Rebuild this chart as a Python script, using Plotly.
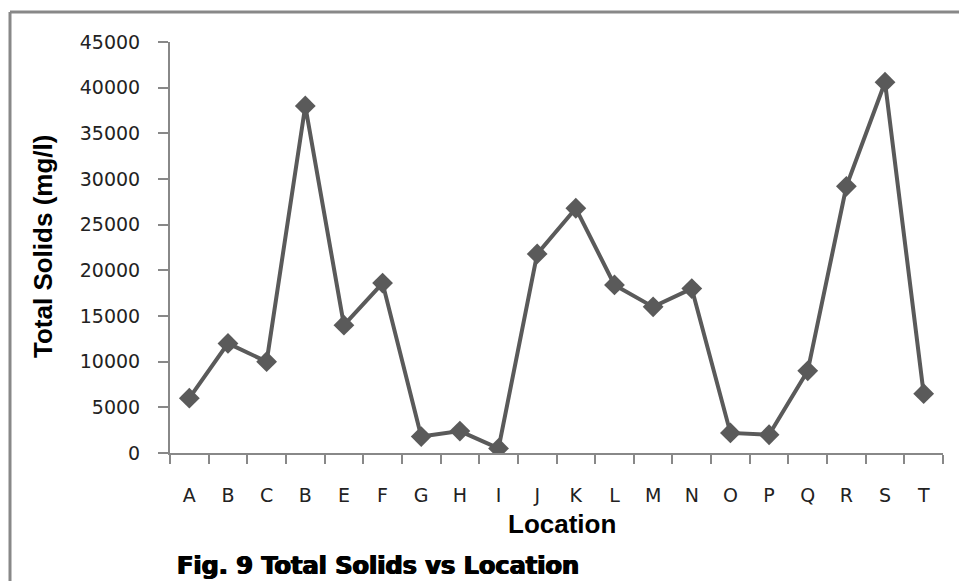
import plotly.graph_objects as go

# Sampling locations (the fourth site is labelled "B" in the survey sheet)
locations = ["A", "B", "C", "B", "E", "F", "G", "H", "I", "J",
             "K", "L", "M", "N", "O", "P", "Q", "R", "S", "T"]
total_solids = [6000, 12000, 10000, 38000, 14000, 18600, 1800, 2400, 500, 21800,
                26800, 18400, 16000, 18000, 2200, 2000, 9000, 29200, 40600, 6500]
y_ticks = [0, 5000, 10000, 15000, 20000, 25000, 30000, 35000, 40000, 45000]
y_tick_labels = [str(v) for v in y_ticks]

W, H = 959, 581
L, R, T, B = 170, 16, 42, 128
PW, PH = W - L - R, H - T - B


def px_x(x):
    return (x - L) / PW


def px_y(y):
    return (H - B - y) / PH


positions = [i + 0.5 for i in range(len(locations))]
line_col = "#5a5a5a"
axis_col = "#888888"

fig = go.Figure(go.Scatter(
    x=positions, y=total_solids, mode="lines+markers",
    line=dict(color=line_col, width=4),
    marker=dict(symbol="diamond", size=16, color=line_col),
    showlegend=False, hoverinfo="y",
))

tick_font = dict(family="DejaVu Sans", size=19, color="#222222")

fig.update_layout(
    width=W, height=H,
    margin=dict(l=L, r=R, t=T, b=B, autoexpand=False),
    paper_bgcolor="white", plot_bgcolor="white",
    xaxis=dict(
        range=[0, len(locations)], tickmode="array",
        tickvals=positions, ticktext=locations, ticks="",
        showline=True, linecolor=axis_col, linewidth=2,
        showgrid=False, zeroline=False, tickfont=tick_font,
        ticklabelstandoff=24,
        minor=dict(tickmode="array", tickvals=list(range(len(locations) + 1)),
                   ticks="outside", ticklen=9, tickwidth=2, tickcolor=axis_col,
                   showgrid=False),
    ),
    yaxis=dict(
        range=[0, 45000], tickmode="array", tickvals=y_ticks,
        ticktext=y_tick_labels,
        ticks="outside", ticklen=10, tickwidth=2, tickcolor=axis_col,
        showline=True, linecolor=axis_col, linewidth=2,
        showgrid=False, zeroline=False, tickfont=tick_font,
        ticklabelstandoff=14,
    ),
    shapes=[
        dict(type="line", xref="paper", yref="paper",
             x0=px_x(10), x1=px_x(10), y0=px_y(12), y1=px_y(620),
             line=dict(color=axis_col, width=3)),
        dict(type="line", xref="paper", yref="paper",
             x0=px_x(10), x1=px_x(1000), y0=px_y(12), y1=px_y(12),
             line=dict(color=axis_col, width=3)),
    ],
    annotations=[
        dict(text="Total Solids (mg/l)", xref="paper", yref="paper",
             x=px_x(43), y=px_y(247), textangle=-90, showarrow=False,
             xanchor="center", yanchor="middle",
             font=dict(family="Liberation Sans", size=26, color="black", weight="bold")),
        dict(text="Location", xref="paper", yref="paper",
             x=px_x(562), y=px_y(524), showarrow=False,
             xanchor="center", yanchor="middle",
             font=dict(family="Liberation Sans", size=26, color="black", weight="bold")),
        dict(text="Fig. 9 Total Solids vs Location", xref="paper", yref="paper",
             x=px_x(175), y=px_y(566), showarrow=False,
             xanchor="left", yanchor="middle",
             font=dict(family="DejaVu Sans", size=24, color="black", weight="bold",
                       shadow="0.7px 0 0 black, -0.7px 0 0 black")),
    ],
)

fig.write_html("out.html")
